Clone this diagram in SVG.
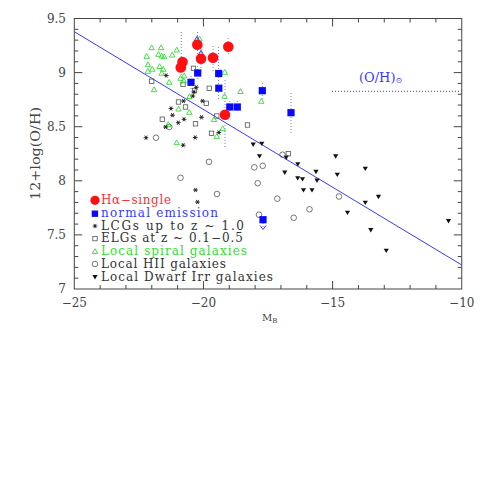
<svg xmlns="http://www.w3.org/2000/svg" width="480" height="480" viewBox="0 0 480 480">
<style>
.lab{font-family:"DejaVu Serif","Liberation Serif",serif;font-size:12px;fill:#444}
.leg{font-family:"DejaVu Serif","Liberation Serif",serif;font-size:12px}
.err{stroke:#7a7aff;stroke-width:1;stroke-dasharray:1 2;fill:none}
</style>
<defs>
<g id="ast"><path d="M-2.4,0H2.4M-1.2,-2.1L1.2,2.1M1.2,-2.1L-1.2,2.1" stroke="#222" stroke-width="0.9"/><circle r="1" fill="#222"/></g>
<rect id="osq" x="-2.2" y="-2.2" width="4.4" height="4.4" fill="none" stroke="#555" stroke-width="0.8"/>
<polygon id="gtri" points="0,-2.8 2.7,2 -2.7,2" fill="none" stroke="#33dd33" stroke-width="0.9"/>
<circle id="ocir" r="2.8" fill="none" stroke="#555" stroke-width="0.8"/>
<polygon id="itri" points="-2.6,-2 2.6,-2 0,2.4" fill="#111"/>
<circle id="rcir" r="5.3" fill="#ff1010"/>
<rect id="bsq" x="-3.6" y="-3.6" width="7.2" height="7.2" fill="#0808ff"/>
<polygon id="btri" points="0,-3 3,2.2 -3,2.2" fill="none" stroke="#3030ff" stroke-width="1"/>
</defs>

<g id="frame">
<rect x="74.3" y="18.5" width="387.45" height="270.5" fill="none" stroke="#444" stroke-width="1"/>
<path stroke="#444" stroke-width="1" fill="none" d="
M100.13,289v-4M125.96,289v-4M151.79,289v-4M177.62,289v-4M203.45,289v-8M229.28,289v-4M255.11,289v-4M280.94,289v-4M306.77,289v-4M332.6,289v-8M358.43,289v-4M384.26,289v-4M410.09,289v-4M435.92,289v-4
M100.13,18.5v4M125.96,18.5v4M151.79,18.5v4M177.62,18.5v4M203.45,18.5v8M229.28,18.5v4M255.11,18.5v4M280.94,18.5v4M306.77,18.5v4M332.6,18.5v8M358.43,18.5v4M384.26,18.5v4M410.09,18.5v4M435.92,18.5v4
M74.3,29.32h4M74.3,40.14h4M74.3,50.96h4M74.3,61.78h4M74.3,72.6h8M74.3,83.42h4M74.3,94.24h4M74.3,105.06h4M74.3,115.88h4M74.3,126.7h8M74.3,137.52h4M74.3,148.34h4M74.3,159.16h4M74.3,169.98h4M74.3,180.8h8M74.3,191.62h4M74.3,202.44h4M74.3,213.26h4M74.3,224.08h4M74.3,234.9h8M74.3,245.72h4M74.3,256.54h4M74.3,267.36h4M74.3,278.18h4
M461.75,29.32h-4M461.75,40.14h-4M461.75,50.96h-4M461.75,61.78h-4M461.75,72.6h-8M461.75,83.42h-4M461.75,94.24h-4M461.75,105.06h-4M461.75,115.88h-4M461.75,126.7h-8M461.75,137.52h-4M461.75,148.34h-4M461.75,159.16h-4M461.75,169.98h-4M461.75,180.8h-8M461.75,191.62h-4M461.75,202.44h-4M461.75,213.26h-4M461.75,224.08h-4M461.75,234.9h-8M461.75,245.72h-4M461.75,256.54h-4M461.75,267.36h-4M461.75,278.18h-4"/>
</g>

<g id="ticklabels" class="lab">
<text x="66" y="22.5" text-anchor="end">9.5</text>
<text x="66" y="76.6" text-anchor="end">9</text>
<text x="66" y="130.7" text-anchor="end">8.5</text>
<text x="66" y="184.8" text-anchor="end">8</text>
<text x="66" y="238.9" text-anchor="end">7.5</text>
<text x="66" y="293" text-anchor="end">7</text>
<text x="74.3" y="306.5" text-anchor="middle">−25</text>
<text x="203.45" y="306.5" text-anchor="middle">−20</text>
<text x="332.6" y="306.5" text-anchor="middle">−15</text>
<text x="461.75" y="306.5" text-anchor="middle">−10</text>
</g>

<g id="axislabels" class="lab">
<text transform="translate(39.5,153.5) rotate(-90)" text-anchor="middle" font-size="13" textLength="93" lengthAdjust="spacingAndGlyphs">12+log(O/H)</text>
<text x="262" y="320.5" font-size="10">M<tspan font-size="7" dy="2">B</tspan></text>
</g>

<g id="fit">
<line x1="74.3" y1="31.7" x2="461.75" y2="265" stroke="#3a3aff" stroke-width="1"/>
<line x1="332" y1="91.3" x2="461.75" y2="91.3" stroke="#3a3aff" stroke-width="1" stroke-dasharray="1 2"/>
<text x="359" y="81.7" font-family="DejaVu Serif, Liberation Serif, serif" font-size="13" fill="#3a3aff">(O/H)<tspan font-size="8" dy="1">⊙</tspan></text>
</g>

<g id="errorbars" class="err">
<path d="M181.3,32V86M197.5,32V58M201,49V72M213,46V72M218.6,47V100M228.3,38V55M225,80V148M197.7,66V80M191,76V89M229.8,101V113M237.3,101V113M262.3,83V99M291,93V133M263,220V229"/>
<path d="M260,225.5L263,229.5L266,225.5" stroke="#3a3aff" stroke-dasharray="none"/>
</g>

<g id="localDwarfIrr">
<use href="#itri" x="253.2" y="144.5"/><use href="#itri" x="261.8" y="143.7"/><use href="#itri" x="259.5" y="156.2"/><use href="#itri" x="286.2" y="157.5"/><use href="#itri" x="335.7" y="156.3"/><use href="#itri" x="297.8" y="164.2"/><use href="#itri" x="365.3" y="168.7"/><use href="#itri" x="284.8" y="172.5"/><use href="#itri" x="316" y="171.8"/><use href="#itri" x="337.3" y="174.7"/><use href="#itri" x="297.7" y="178.2"/><use href="#itri" x="302.5" y="179.2"/><use href="#itri" x="317" y="180.5"/><use href="#itri" x="303.5" y="190.2"/><use href="#itri" x="312" y="190.2"/><use href="#itri" x="378.5" y="196.8"/><use href="#itri" x="365.3" y="202.7"/><use href="#itri" x="347.5" y="212.7"/><use href="#itri" x="448.5" y="221"/><use href="#itri" x="370.8" y="230"/><use href="#itri" x="386.3" y="250.7"/>
</g>

<g id="localHII">
<use href="#ocir" x="156" y="137.7"/><use href="#ocir" x="169.3" y="127"/><use href="#ocir" x="209" y="161.8"/><use href="#ocir" x="180.5" y="177.8"/><use href="#ocir" x="217" y="194"/><use href="#ocir" x="282.5" y="154.7"/><use href="#ocir" x="254.3" y="167.3"/><use href="#ocir" x="262.7" y="165.8"/><use href="#ocir" x="257.7" y="183.2"/><use href="#ocir" x="277.3" y="198.7"/><use href="#ocir" x="309.5" y="209.3"/><use href="#ocir" x="259" y="214.7"/><use href="#ocir" x="293.7" y="217.8"/><use href="#ocir" x="339" y="196.5"/>
</g>

<g id="ELGs">
<use href="#osq" x="193.5" y="68.3"/><use href="#osq" x="151.7" y="81.2"/><use href="#osq" x="183" y="84.3"/><use href="#osq" x="209.3" y="88.3"/><use href="#osq" x="194.5" y="90.5"/><use href="#osq" x="178.5" y="102"/><use href="#osq" x="185.5" y="107"/><use href="#osq" x="206.3" y="103.3"/><use href="#osq" x="162.3" y="119.2"/><use href="#osq" x="195.5" y="123.8"/><use href="#osq" x="216.8" y="116"/><use href="#osq" x="211.5" y="133.3"/><use href="#osq" x="247.5" y="125"/><use href="#osq" x="288.3" y="153.7"/>
</g>

<g id="localSpiral">
<use href="#gtri" x="151.7" y="47.7"/><use href="#gtri" x="161" y="47.7"/><use href="#gtri" x="176.8" y="50"/><use href="#gtri" x="199.5" y="39"/><use href="#gtri" x="146.7" y="56.3"/><use href="#gtri" x="158.5" y="54.3"/><use href="#gtri" x="161.7" y="56"/><use href="#gtri" x="164.2" y="56.7"/><use href="#gtri" x="172.2" y="55"/><use href="#gtri" x="148" y="64.7"/><use href="#gtri" x="152.3" y="69.2"/><use href="#gtri" x="147.8" y="71.3"/><use href="#gtri" x="159.6" y="66.5"/><use href="#gtri" x="163.2" y="69.3"/><use href="#gtri" x="161.7" y="73.2"/><use href="#gtri" x="169.2" y="82.3"/><use href="#gtri" x="154" y="89.7"/><use href="#gtri" x="180.5" y="78.3"/><use href="#gtri" x="184.2" y="75.8"/><use href="#gtri" x="183.8" y="80.8"/><use href="#gtri" x="189.5" y="96.5"/><use href="#gtri" x="178.5" y="109"/><use href="#gtri" x="189.3" y="112.3"/><use href="#gtri" x="168.3" y="124.5"/><use href="#gtri" x="176.7" y="142.7"/><use href="#gtri" x="214" y="119.5"/><use href="#gtri" x="222.7" y="128.6"/><use href="#gtri" x="216.8" y="136.4"/><use href="#gtri" x="224.8" y="72.3"/><use href="#gtri" x="224.5" y="96.3"/><use href="#gtri" x="240.5" y="91.5"/><use href="#gtri" x="261.3" y="101.3"/>
</g>

<g id="LCGs">
<use href="#ast" x="166.2" y="75.5"/><use href="#ast" x="196.3" y="87.3"/><use href="#ast" x="194" y="92"/><use href="#ast" x="192.8" y="96"/><use href="#ast" x="183.5" y="101"/><use href="#ast" x="202.5" y="101"/><use href="#ast" x="171" y="108.5"/><use href="#ast" x="172.5" y="115.2"/><use href="#ast" x="178.3" y="122.7"/><use href="#ast" x="184" y="119.3"/><use href="#ast" x="165.5" y="127"/><use href="#ast" x="201.5" y="117.3"/><use href="#ast" x="146" y="137.7"/><use href="#ast" x="195.2" y="137.5"/><use href="#ast" x="183.2" y="145.2"/><use href="#ast" x="218.8" y="132.5"/><use href="#ast" x="195.5" y="190"/><use href="#ast" x="197.5" y="202"/>
</g>

<g id="normalEmission">
<use href="#bsq" x="197.7" y="73"/><use href="#bsq" x="191" y="82.3"/><use href="#bsq" x="218.7" y="73.5"/><use href="#bsq" x="218.8" y="88.2"/><use href="#bsq" x="229.8" y="107"/><use href="#bsq" x="237.3" y="107"/><use href="#bsq" x="262.3" y="90.7"/><use href="#bsq" x="291" y="112.7"/><use href="#bsq" x="263" y="219.7"/>
<use href="#btri" x="197" y="39.3"/><use href="#btri" x="201" y="53.3"/>
</g>

<g id="HalphaSingle">
<use href="#rcir" x="197.3" y="44.7"/><use href="#rcir" x="182.5" y="62"/><use href="#rcir" x="180.8" y="67.5"/><use href="#rcir" x="201" y="58.7"/><use href="#rcir" x="213" y="57.7"/><use href="#rcir" x="228.3" y="46.7"/><use href="#rcir" x="225" y="114.7"/>
</g>

<g id="legend" class="leg">
<circle cx="95" cy="200.3" r="4.6" fill="#ff1010"/>
<text x="101" y="204" fill="#ff3030" textLength="70" lengthAdjust="spacing">Hα−single</text>
<rect x="91.7" y="210.5" width="6.4" height="6.4" fill="#0808ff"/>
<text x="101" y="217" fill="#3a3aff" textLength="117" lengthAdjust="spacing">normal emission</text>
<use href="#ast" x="95" y="226"/>
<text x="101" y="229.7" fill="#333" textLength="143" lengthAdjust="spacing">LCGs up to z ~ 1.0</text>
<use href="#osq" x="95" y="238.6"/>
<text x="101" y="242.4" fill="#333" textLength="142" lengthAdjust="spacing">ELGs at z ~ 0.1−0.5</text>
<use href="#gtri" x="95" y="251.5"/>
<text x="101" y="255.1" fill="#33dd33" textLength="146" lengthAdjust="spacing">Local spiral galaxies</text>
<use href="#ocir" x="95" y="264"/>
<text x="101" y="267.8" fill="#333" textLength="125" lengthAdjust="spacing">Local HII galaxies</text>
<use href="#itri" x="95" y="277"/>
<text x="101" y="280.5" fill="#333" textLength="172" lengthAdjust="spacing">Local Dwarf Irr galaxies</text>
</g>
</svg>
